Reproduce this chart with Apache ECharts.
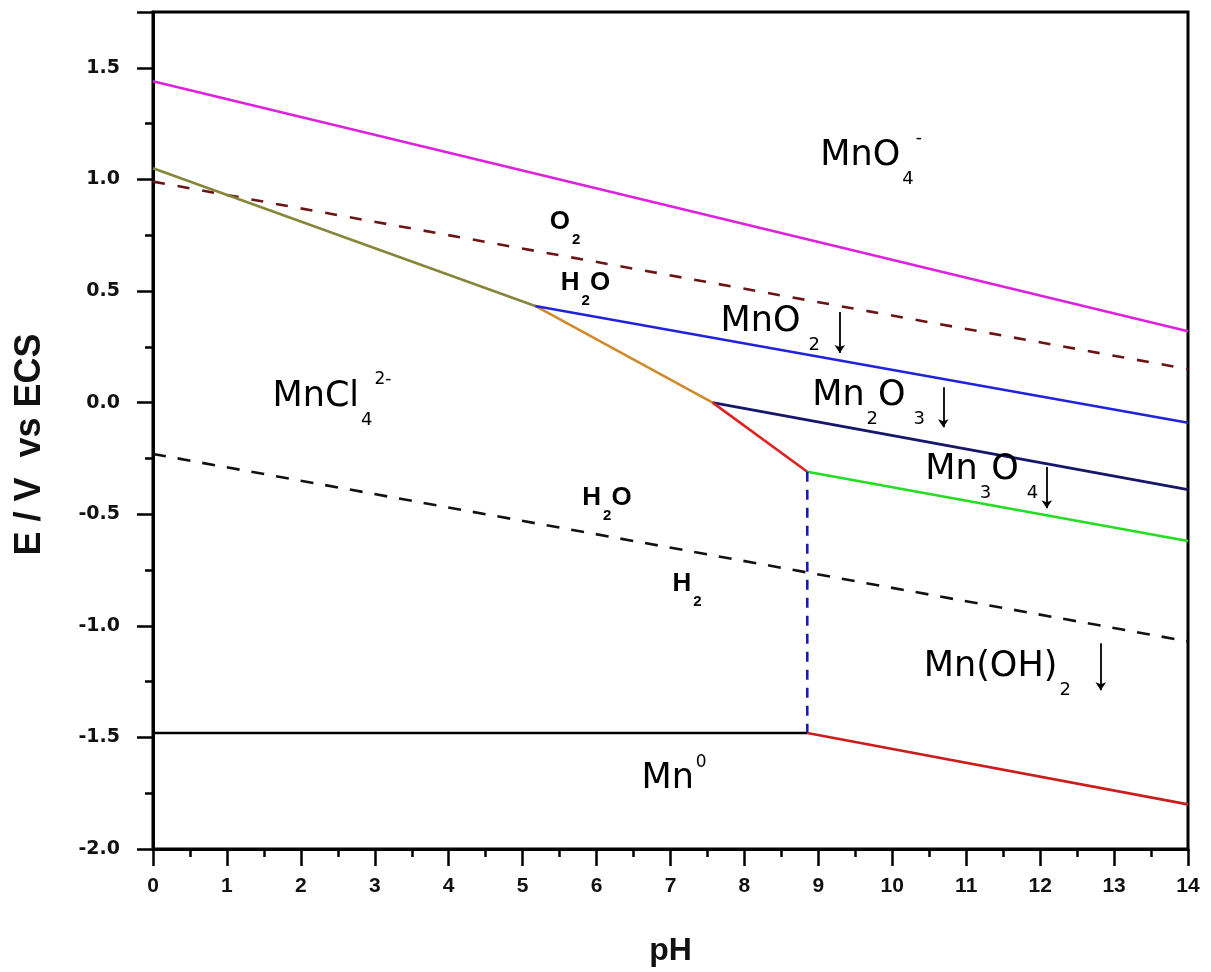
<!DOCTYPE html>
<html>
<head>
<meta charset="utf-8">
<title>Mn–Cl–H2O Pourbaix diagram</title>
<script src="https://cdn.jsdelivr.net/npm/echarts@6/dist/echarts.min.js"></script>
<style>
  html, body { margin: 0; padding: 0; background: #fff; }
  #chart { width: 1211px; height: 972px; }
</style>
</head>
<body>
<div id="chart"></div>
<script>
// Boundary lines of the diagram: [pH, E (V vs ECS)] end points
const mno4_mno2    = [[0, 1.44], [14, 0.32]];
const o2_h2o       = [[0, 0.99], [14, 0.15]];
const mncl4_mno2   = [[0, 1.05], [5.17, 0.433]];
const mncl4_mn2o3  = [[5.17, 0.433], [7.57, 0.0]];
const mno2_mn2o3   = [[5.17, 0.433], [14, -0.09]];
const mncl4_mn3o4  = [[7.57, 0.0], [8.85, -0.31]];
const mn2o3_mn3o4  = [[7.57, 0.0], [14, -0.39]];
const mn3o4_mnoh2  = [[8.85, -0.31], [14, -0.62]];
const mncl4_mnoh2  = [[8.85, -0.31], [8.85, -1.48]];
const h2o_h2       = [[0, -0.23], [14, -1.07]];
const mn_mncl4     = [[0, -1.48], [8.85, -1.48]];
const mn_mnoh2     = [[8.85, -1.48], [14, -1.80]];

// Species names (rich text) and where they sit, in pH / E units
const speciesText = [
  '{b|MnO}{bsub|4}{bsup|-}',
  '{s|O}{ssub|2}',
  '{s|H}{ssub|2}{s|O}',
  '{b|MnO}{bsubg|2}',
  '{b|Mn}{bsub|2}{b|O}{bsubg|3}',
  '{b|MnCl}{bsub|4}{bsup|2-}',
  '{b|Mn}{bsub|3}{b|O}{bsubg|4}',
  '{s|H}{ssub|2}{s|O}',
  '{s|H}{ssub|2}',
  '{b|Mn(OH)}{bsub|2}',
  '{b|Mn}{bsup|0}'
];
const speciesAt = [
  [9.02, 1.105], [5.36, 0.809], [5.51, 0.536], [7.67, 0.361],
  [8.91, 0.029], [1.61, 0.025], [10.44, -0.303], [5.80, -0.428],
  [7.02, -0.814], [10.42, -1.186], [6.60, -1.688]
];

// Precipitation arrows under the solid phases: [pH, E start, E end]
const arrows = [
  [9.29, 0.406, 0.222],
  [10.69, 0.069, -0.11],
  [12.09, -0.289, -0.473],
  [12.82, -1.078, -1.289]
];

const chart = echarts.init(document.getElementById('chart'), null, { renderer: 'canvas' });

function boundary(data, color, type) {
  return {
    type: 'line',
    data: data,
    symbol: 'none',
    silent: true,
    lineStyle: { color: color, width: 2.6, type: type || 'solid', cap: 'butt' },
    z: 3
  };
}

const labelFont = 'DejaVu Sans, Liberation Sans, sans-serif';
const boldFont = 'Liberation Sans, Arial, sans-serif';

const rich = {
  b:     { fontFamily: labelFont, fontSize: 35, color: '#000', opacity: 1, verticalAlign: 'middle' },
  bsub:  { fontFamily: labelFont, fontSize: 18, color: '#000', opacity: 1, verticalAlign: 'middle', padding: [46, 0, 0, 2] },
  bsubg: { fontFamily: labelFont, fontSize: 18, color: '#000', opacity: 1, verticalAlign: 'middle', padding: [46, 0, 0, 8] },
  bsup:  { fontFamily: labelFont, fontSize: 17, color: '#000', opacity: 1, verticalAlign: 'middle', padding: [0, 0, 34, 2] },
  s:     { fontFamily: boldFont, fontSize: 26, fontWeight: 'bold', color: '#000', opacity: 1, verticalAlign: 'middle' },
  ssub:  { fontFamily: boldFont, fontSize: 15, fontWeight: 'bold', color: '#000', opacity: 1, verticalAlign: 'middle', padding: [36, 0, 0, 2] }
};

const series = [
  boundary(mno4_mno2, '#dd22dd'),
  boundary(o2_h2o, '#6a1414', [12, 13]),
  boundary(h2o_h2, '#111', [13, 12]),
  boundary(mncl4_mno2, '#86863a'),
  boundary(mncl4_mn2o3, '#d08a2c'),
  boundary(mno2_mn2o3, '#2222dd'),
  boundary(mn2o3_mn3o4, '#16166a'),
  boundary(mncl4_mn3o4, '#dd2222'),
  boundary(mn3o4_mnoh2, '#22dd22'),
  boundary(mncl4_mnoh2, '#1c1caa', [10, 8]),
  boundary(mn_mncl4, '#000'),
  boundary(mn_mnoh2, '#cc1c1c'),
  {
    type: 'lines',
    coordinateSystem: 'cartesian2d',
    silent: true,
    symbol: ['none', 'arrow'],
    symbolSize: [0, 8],
    lineStyle: { color: '#000', width: 1.8, opacity: 1 },
    data: arrows.map(a => ({ coords: [[a[0], a[1]], [a[0], a[2]]] })),
    z: 4
  },
  {
    type: 'scatter',
    silent: true,
    symbolSize: 1,
    itemStyle: { color: '#fff', opacity: 1 },
    data: speciesAt.map((p, i) => ({ value: p, text: speciesText[i] })),
    label: {
      show: true,
      position: 'right',
      distance: 0,
      color: '#000',
      opacity: 1,
      formatter: p => p.data.text,
      rich: rich
    },
    z: 5
  }
];

chart.setOption({
  animation: false,
  backgroundColor: '#fff',
  grid: {
    left: 153, right: 23, top: 12, bottom: 123,
    show: true, borderColor: '#000', borderWidth: 3
  },
  xAxis: {
    type: 'value',
    min: 0, max: 14, interval: 1,
    name: 'pH',
    nameLocation: 'middle',
    nameGap: 86,
    nameTextStyle: { fontFamily: boldFont, fontSize: 32, fontWeight: 'bold', color: '#111' },
    axisLine: { onZero: false, lineStyle: { color: '#000', width: 3 } },
    axisTick: { inside: false, length: 17, lineStyle: { color: '#000', width: 2.5 } },
    minorTick: { show: true, splitNumber: 2, length: 8, lineStyle: { color: '#000', width: 2.5 } },
    splitLine: { show: false },
    axisLabel: { margin: 27, fontFamily: boldFont, fontSize: 21, fontWeight: 'bold', color: '#111' }
  },
  yAxis: {
    type: 'value',
    min: -2, max: 1.75, interval: 0.5,
    name: 'E / V  vs ECS',
    nameLocation: 'middle',
    nameGap: 105,
    nameTextStyle: { fontFamily: boldFont, fontSize: 36, fontWeight: 'bold', color: '#111', padding: [0, 28, 0, 0] },
    axisLine: { onZero: false, lineStyle: { color: '#000', width: 3 } },
    axisTick: { inside: false, length: 16, lineStyle: { color: '#000', width: 2.5 } },
    minorTick: { show: true, splitNumber: 2, length: 8, lineStyle: { color: '#000', width: 2.5 } },
    splitLine: { show: false },
    axisLabel: {
      margin: 33, fontFamily: 'DejaVu Sans, sans-serif', fontSize: 19, fontWeight: 'bold', color: '#111',
      showMaxLabel: false,
      formatter: v => v.toFixed(1)
    }
  },
  series: series
});
</script>
</body>
</html>
